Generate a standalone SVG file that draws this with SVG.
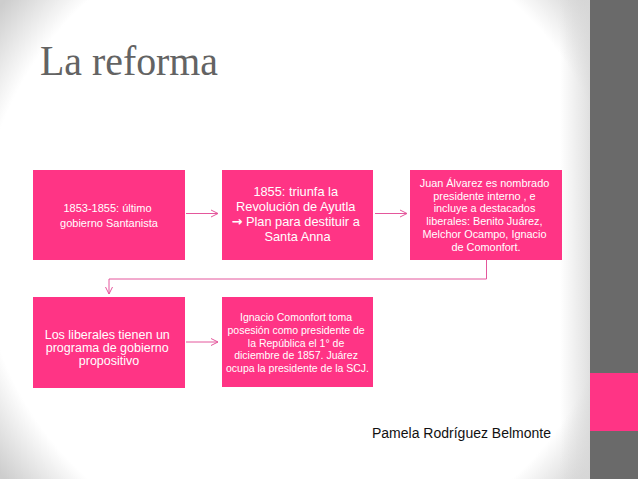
<svg xmlns="http://www.w3.org/2000/svg" width="638" height="479" viewBox="0 0 638 479">
  <defs>
    <radialGradient id="bg" gradientUnits="userSpaceOnUse" cx="300" cy="240" r="380">
      <stop offset="0" stop-color="#ffffff"/>
      <stop offset="0.84" stop-color="#ffffff"/>
      <stop offset="1" stop-color="#cdcdcd"/>
    </radialGradient>
    <linearGradient id="shade" x1="0" y1="0" x2="1" y2="0">
      <stop offset="0" stop-color="#d8d8d8" stop-opacity="0"/>
      <stop offset="1" stop-color="#d8d8d8" stop-opacity="0.8"/>
    </linearGradient>
    <marker id="arr" markerWidth="9" markerHeight="9" refX="8" refY="4.5" orient="auto" markerUnits="userSpaceOnUse">
      <path d="M1,1 L8,4.5 L1,8" fill="none" stroke="#e4579c" stroke-width="1"/>
    </marker>
    <style>
      .box { fill: #ff3485; }
      .t { font-family: "Liberation Sans", "DejaVu Sans", sans-serif; fill: #ffffff; text-anchor: middle; }
      .c { fill: none; stroke: #e4579c; stroke-width: 1; marker-end: url(#arr); }
    </style>
  </defs>

  <rect x="0" y="0" width="638" height="479" fill="url(#bg)"/>
  <rect x="560" y="0" width="30" height="479" fill="url(#shade)"/>
  <rect x="590" y="0" width="48" height="479" fill="#6a6a6a"/>
  <rect x="590" y="373" width="48" height="58" fill="#ff3485"/>

  <text x="40" y="75" font-family="Liberation Serif, serif" font-size="42" fill="#636363" textLength="178" lengthAdjust="spacingAndGlyphs">La reforma</text>

  <g id="connectors">
    <path class="c" d="M186,213.5 H218"/>
    <path class="c" d="M375,213.5 H407"/>
    <path class="c" d="M486.5,260 V279 H109 V294"/>
    <path class="c" d="M186,342 H218"/>
  </g>

  <g id="n1">
    <rect class="box" x="33" y="170" width="152" height="90"/>
    <text class="t" font-size="11">
      <tspan x="109" y="212">1853-1855: último</tspan>
      <tspan x="109" y="227">gobierno Santanista</tspan>
    </text>
  </g>

  <g id="n2">
    <rect class="box" x="222" y="170" width="151" height="90"/>
    <text class="t" font-size="12.8">
      <tspan x="297.5" y="196">1855: triunfa la</tspan>
      <tspan x="297.5" y="211">Revolución de Ayutla</tspan>
      <tspan x="297.5" y="226"><tspan font-family="DejaVu Sans, sans-serif" font-weight="bold">→</tspan> Plan para destituir a</tspan>
      <tspan x="297.5" y="241">Santa Anna</tspan>
    </text>
  </g>

  <g id="n3">
    <rect class="box" x="410" y="170" width="152" height="90"/>
    <text class="t" font-size="10.9">
      <tspan x="486" y="187">Juan Álvarez es nombrado</tspan>
      <tspan x="486" y="199.5">presidente interno , e</tspan>
      <tspan x="486" y="212">incluye a destacados</tspan>
      <tspan x="486" y="225">liberales: Benito Juárez,</tspan>
      <tspan x="486" y="238">Melchor Ocampo, Ignacio</tspan>
      <tspan x="486" y="250.5">de Comonfort.</tspan>
    </text>
  </g>

  <g id="n4">
    <rect class="box" x="33" y="297" width="152" height="91"/>
    <text class="t" font-size="12.5">
      <tspan x="109" y="339">Los liberales tienen un</tspan>
      <tspan x="109" y="352">programa de gobierno</tspan>
      <tspan x="109" y="364.5">propositivo</tspan>
    </text>
  </g>

  <g id="n5">
    <rect class="box" x="222" y="297" width="151" height="90"/>
    <text class="t" font-size="10.5">
      <tspan x="297.5" y="321">Ignacio Comonfort toma</tspan>
      <tspan x="297.5" y="334">posesión como presidente de</tspan>
      <tspan x="297.5" y="346.5">la República el 1° de</tspan>
      <tspan x="297.5" y="359">diciembre de 1857. Juárez</tspan>
      <tspan x="297.5" y="371.5">ocupa la presidente de la SCJ.</tspan>
    </text>
  </g>

  <text x="372" y="438" font-family="Liberation Sans, sans-serif" font-size="14" fill="#111111">Pamela Rodríguez Belmonte</text>
</svg>
